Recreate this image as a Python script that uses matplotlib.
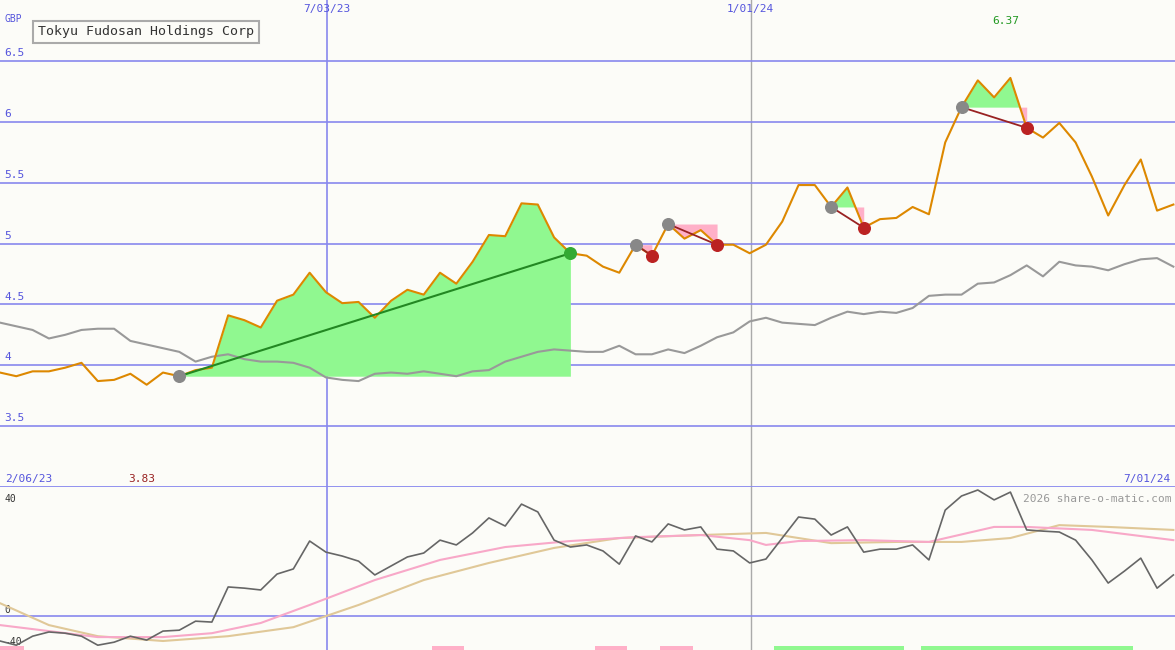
import matplotlib
matplotlib.use("Agg")
import matplotlib.pyplot as plt
import numpy as np

price = [3.94,3.91,3.95,3.95,3.98,4.02,3.87,3.88,3.93,3.84,3.94,3.91,3.96,3.98,4.41,4.37,4.31,4.53,4.58,4.76,4.60,4.51,4.52,4.39,4.53,4.62,4.58,4.76,4.67,4.85,5.07,5.06,5.33,5.32,5.05,4.92,4.90,4.81,4.76,4.99,4.90,5.16,5.04,5.11,4.99,4.99,4.92,4.99,5.18,5.48,5.48,5.30,5.46,5.13,5.20,5.21,5.30,5.24,5.83,6.12,6.34,6.20,6.36,5.95,5.87,5.99,5.83,5.55,5.23,5.48,5.69,5.27,5.32]
index_rel = [4.35,4.32,4.29,4.22,4.25,4.29,4.30,4.30,4.20,4.17,4.14,4.11,4.03,4.07,4.09,4.05,4.03,4.03,4.02,3.98,3.90,3.88,3.87,3.93,3.94,3.93,3.95,3.93,3.91,3.95,3.96,4.03,4.07,4.11,4.13,4.12,4.11,4.11,4.16,4.09,4.09,4.13,4.10,4.16,4.23,4.27,4.36,4.39,4.35,4.34,4.33,4.39,4.44,4.42,4.44,4.43,4.47,4.57,4.58,4.58,4.67,4.68,4.74,4.82,4.73,4.85,4.82,4.81,4.78,4.83,4.87,4.88,4.81]
osc = [-8.3,-9.7,-6.7,-5.3,-5.7,-6.7,-9.7,-8.7,-6.7,-8,-5,-4.7,-1.7,-2,9.7,9.3,8.7,14,15.7,25,21.3,20,18.3,13.7,16.7,19.7,21,25.3,23.7,27.7,32.7,30,37.3,34.7,25.3,23,23.7,21.7,17.3,26.7,24.7,30.7,28.7,29.7,22.3,21.7,17.7,19,26,33,32.3,27,29.7,21.3,22.3,22.3,23.7,18.7,35.3,40,42,38.7,41.3,28.7,28.3,28,25.3,18.7,11,15,19.3,9.3,13.7]
pink_idx = [0,6,10,13,16,19,23,27,31,35,39,43,46,47,49,53,57,61,63,67,72]
pink_val = [-3,-7,-7,-5.7,-2.3,3.7,12,18.7,23,25,26.3,27,25.3,23.7,25,25.3,24.7,29.7,29.7,28.7,25.3]
tan_idx = [0,3,6,10,14,18,22,26,30,34,38,43,47,51,55,59,62,65,68,72]
tan_val = [4.3,-3,-6.7,-8.3,-6.7,-3.7,3.7,12,17.7,22.7,26,27,27.7,24.3,24.7,24.7,26,30.3,29.7,28.7]
trades = [(11,35,True),(39,40,False),(41,44,False),(51,53,False),(59,63,False)]
bars_pink = [0,1,27,28,37,38,41,42]
bars_green = list(range(48,56))+list(range(57,70))

n = min(len(price), len(index_rel), len(osc))
x = np.arange(n)
price = np.array(price[:n]); index_rel = np.array(index_rel[:n]); osc = np.array(osc[:n])
bg = '#fcfcf8'
blue = '#8888ee'
mono = 'DejaVu Sans Mono'

fig = plt.figure(figsize=(11.75, 6.5), dpi=100, facecolor=bg)
ax = fig.add_axes([0, 1-487/650, 1, 487/650], facecolor=bg)
ax2 = fig.add_axes([0, 0, 1, 163/650], facecolor=bg)
xmax = 72.1
for a in (ax, ax2):
    a.set_xlim(0, xmax)
    for s in a.spines.values():
        s.set_visible(False)
    a.set_xticks([]); a.set_yticks([])
    a.axvline(20.06, color=blue, lw=1.2, zorder=1)
    a.axvline(46.07, color='#aaaaaa', lw=1, zorder=1)

ax.set_ylim(3.0, 7.0)
for v in [3.5,4,4.5,5,5.5,6,6.5]:
    ax.axhline(v, color=blue, lw=1.2, zorder=1)
    ax.text(0.004, v+0.04, f"{v:g}", transform=ax.get_yaxis_transform(), color='#5555dd', fontsize=8, family=mono)
ax.axhline(3.0, color=blue, lw=2, zorder=1)
ax.text(0.004, 6.84, "GBP", transform=ax.get_yaxis_transform(), color='#5555dd', fontsize=7, family=mono, va='center')

ax.plot(x, index_rel, color='#999999', lw=1.5, zorder=3)
for e, q, win in trades:
    xs = x[e:q+1]; ys = price[e:q+1]; base = price[e]
    if win:
        ax.fill_between(xs, ys, base, color='#90f890', zorder=2, lw=0)
        ax.plot([e,q],[price[e],price[q]], color='#228822', lw=1.5, zorder=4)
    else:
        ax.fill_between(xs, ys, base, where=ys>=base, color='#90f890', zorder=2, lw=0, interpolate=True)
        ax.fill_between(xs, ys, base, where=ys<base, color='#ffb0c8', zorder=2, lw=0, interpolate=True)
        ax.plot([e,q],[price[e],price[q]], color='#992222', lw=1.3, zorder=4)
ax.plot(x, price, color='#dd8800', lw=1.5, zorder=3)
for e, q, win in trades:
    ax.scatter([e],[price[e]], s=70, color='#888888', zorder=5)
    ax.scatter([q],[price[q]], s=70, color='#33aa33' if win else '#bb2222', zorder=5)

ax.text(38/1175, 6.74, "Tokyu Fudosan Holdings Corp", transform=ax.get_yaxis_transform(), fontsize=9.5, family=mono,
        color='#333333', bbox=dict(boxstyle='square,pad=0.35', fc=bg, ec='#aaaaaa', lw=1.5), va='center')
ax.text(20.06, 6.93, "7/03/23", ha='center', va='center', color='#5555dd', fontsize=8, family=mono)
ax.text(46.07, 6.93, "1/01/24", ha='center', va='center', color='#5555dd', fontsize=8, family=mono)
ax.text(61.7, 6.83, "6.37", ha='center', va='center', color='#229922', fontsize=8, family=mono)
ax.text(0.004, 3.04, "2/06/23", transform=ax.get_yaxis_transform(), color='#5555dd', fontsize=8, family=mono)
ax.text(8.7, 3.04, "3.83", ha='center', color='#992222', fontsize=8, family=mono)
ax.text(0.996, 3.04, "7/01/24", ha='right', transform=ax.get_yaxis_transform(), color='#5555dd', fontsize=8, family=mono)

ax2.set_ylim(-11.3, 43)
ax2.axhline(0, color=blue, lw=1.2, zorder=1)
for v, yy in [(40, 38), (0, 1), (-40, -9.5)]:
    ax2.text(0.004, yy, f"{v}", transform=ax2.get_yaxis_transform(), color='#333333', fontsize=7, family=mono)
ax2.bar(bars_pink, 1.2, bottom=-11.3, width=1, color='#ffb0c8', zorder=2)
ax2.bar(bars_green, 1.2, bottom=-11.3, width=1, color='#90f890', zorder=2)
ax2.plot(tan_idx, tan_val, color='#e0c898', lw=1.5, zorder=3)
ax2.plot(pink_idx, pink_val, color='#f8a8c8', lw=1.5, zorder=3)
ax2.plot(x, osc, color='#666666', lw=1.2, zorder=4)
ax2.text(0.997, 38, "2026 share-o-matic.com", ha='right', transform=ax2.get_yaxis_transform(), color='#999999', fontsize=8, family=mono)

fig.savefig("out.png", dpi=100, facecolor=bg)
